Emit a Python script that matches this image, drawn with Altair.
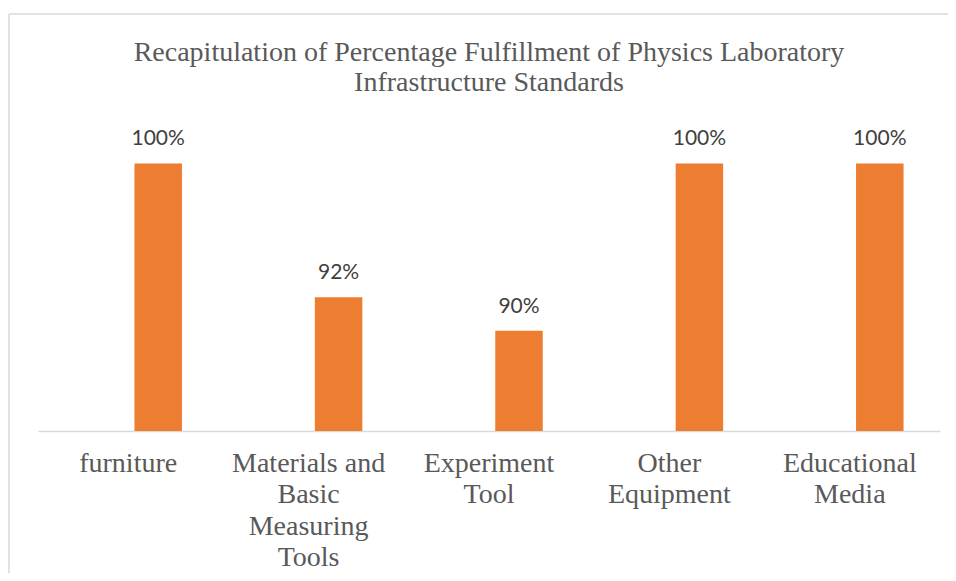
import altair as alt
import pandas as pd

categories = ["furniture", "Materials and Basic Measuring Tools", "Experiment Tool",
              "Other Equipment", "Educational Media"]
label_lines = [["furniture"], ["Materials and", "Basic", "Measuring", "Tools"],
               ["Experiment", "Tool"], ["Other", "Equipment"], ["Educational", "Media"]]
values = [100, 92, 90, 100, 100]
value_labels = ["100%", "92%", "90%", "100%", "100%"]
title_lines = ["Recapitulation of Percentage Fulfillment of Physics Laboratory",
               "Infrastructure Standards"]

df = pd.DataFrame({"cat": categories, "val": values, "lab": value_labels})

expr = "''"
for c, lines in reversed(list(zip(categories, label_lines))):
    arr = "[" + ",".join("'" + l + "'" for l in lines) + "]"
    expr = f"datum.value == '{c}' ? {arr} : ({expr})"

W, H = 902, 301
PL, PT = 30, 122
TOTAL_W, TOTAL_H = 940, 565

x = alt.X("cat:N", sort=categories, title=None,
          scale=alt.Scale(paddingInner=0, paddingOuter=0),
          axis=alt.Axis(labelExpr=expr, labelAngle=0, ticks=False,
                        domainColor="#D9D9D9", domainWidth=1.5,
                        labelFont="Liberation Serif", labelFontSize=28,
                        labelColor="#595959", labelPadding=18,
                        labelLineHeight=31.5, labelLimit=400))
y = alt.Y("val:Q", title=None, scale=alt.Scale(domain=[84, 102], zero=False), axis=None)

frame_df = pd.DataFrame({"a": [0]})
border_left = alt.Chart(frame_df).mark_rule(color="#D9D9D9", strokeWidth=1.5).encode(
    x=alt.value(-29), y=alt.value(-116), y2=alt.value(H + 200))
border_top = alt.Chart(frame_df).mark_rule(color="#D9D9D9", strokeWidth=1.5).encode(
    x=alt.value(-29), x2=alt.value(W + 80), y=alt.value(-116))

bars = alt.Chart(df).mark_bar(color="#ED7D31", size=47.5, xOffset=30).encode(
    x=x, y=y, y2=alt.datum(84))

texts = alt.Chart(df).mark_text(
    font="Lato", fontSize=21, color="#404040", baseline="alphabetic", dy=-18, xOffset=30
).encode(x=x, y=y, text="lab:N")

chart = alt.layer(border_left, border_top, bars, texts).properties(
    width=W, height=H,
    title=alt.TitleParams(title_lines, font="Liberation Serif", fontSize=28,
                          fontWeight="normal", color="#595959", lineHeight=30,
                          anchor="middle", frame="group", offset=-84),
    padding={"left": PL, "top": PT, "right": TOTAL_W - PL - W, "bottom": TOTAL_H - PT - H},
    autosize=alt.AutoSizeParams(type="none"),
    background="white",
).configure_view(stroke=None)

chart.save("out.html", embed_options={"renderer": "svg", "actions": False})
